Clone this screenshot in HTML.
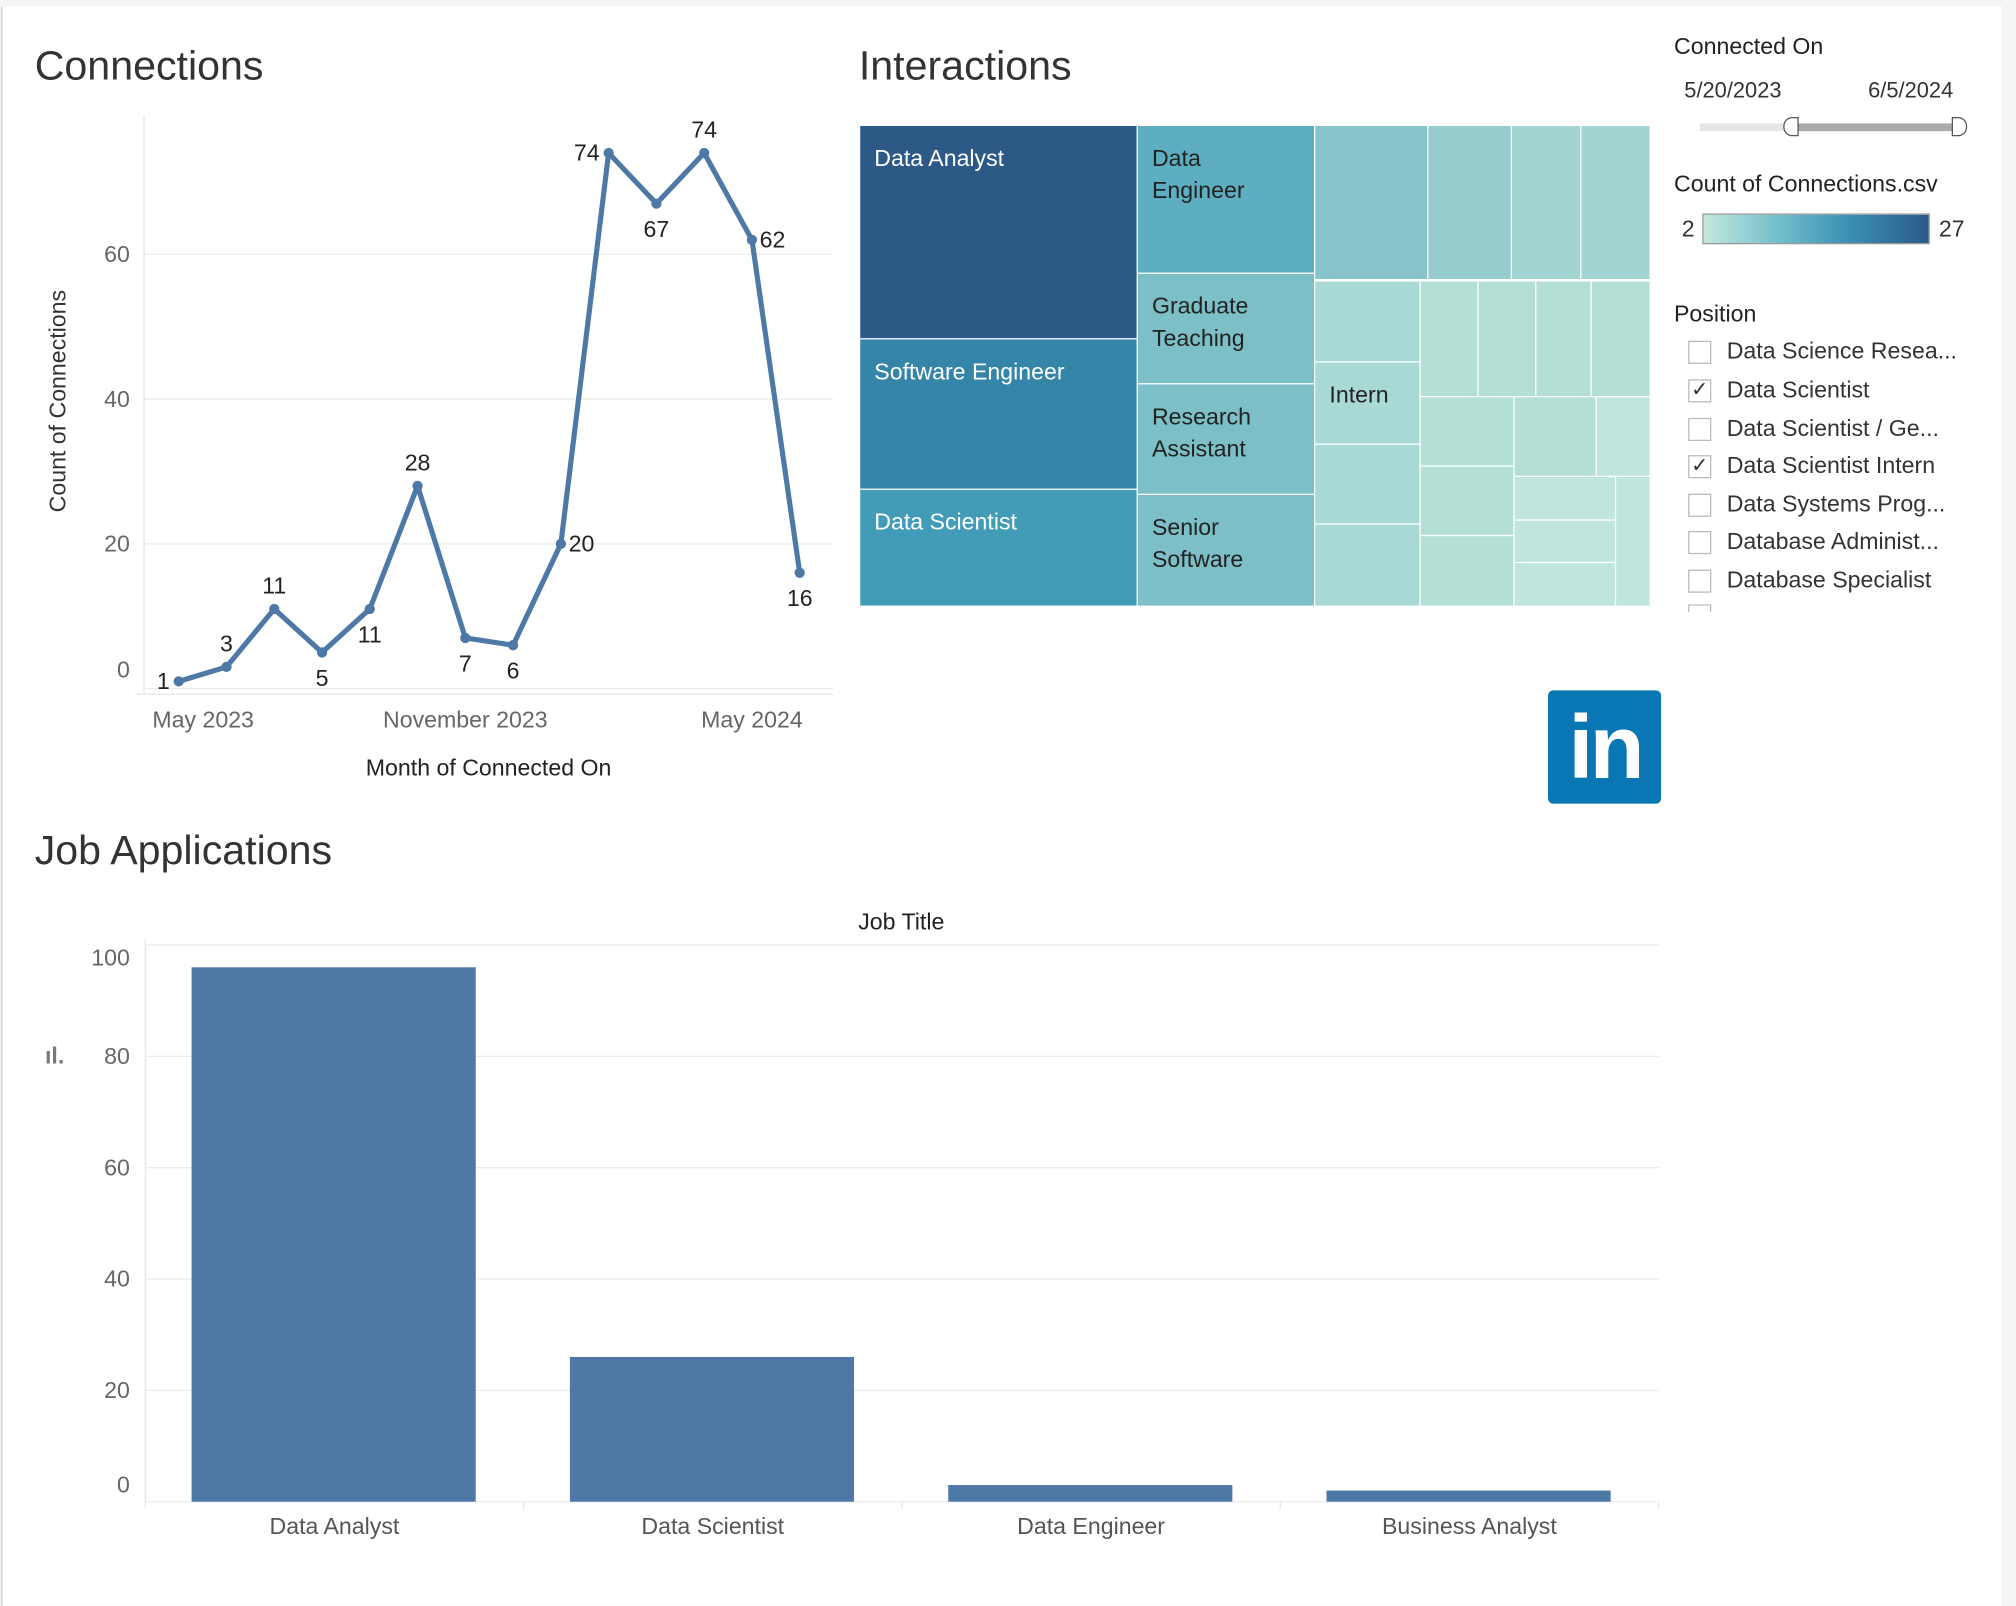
<!DOCTYPE html>
<html><head><meta charset="utf-8"><style>
html,body{margin:0;padding:0;background:#f4f4f4;overflow:hidden;width:2016px;height:1606px}
#wrap{position:absolute;left:0;top:0;width:1568px;height:1249px;overflow:hidden;transform:scale(1.285714);transform-origin:0 0;font-family:"Liberation Sans",sans-serif;color:#333}
#panel{position:absolute;left:1px;top:5px;width:1556px;height:1244px;background:#fff;border-left:1px solid #ccc;box-sizing:border-box}
.t{position:absolute;white-space:nowrap}
svg text{font-family:"Liberation Sans",sans-serif}
.cb{position:absolute;left:1313px;width:18px;height:18px;border:1px solid #bbb;background:#fff;box-sizing:border-box;font-size:16px;line-height:16px;text-align:center;color:#333}
.pl{position:absolute;left:1343px;font-size:18px;color:#333;white-space:nowrap}
</style></head><body>
<div id="wrap">
<div id="panel"></div>
<div class="t" style="left:27px;top:33px;font-size:32px;color:#333">Connections</div>
<div class="t" style="left:668px;top:33px;font-size:32px;color:#333">Interactions</div>
<div class="t" style="left:27px;top:643px;font-size:32px;color:#333">Job Applications</div>

<svg id="line" width="660" height="620" style="position:absolute;left:0;top:0"></svg>
<svg id="tree" width="620" height="380" style="position:absolute;left:669px;top:98px"></svg>
<svg id="bar" width="1300" height="550" style="position:absolute;left:0;top:690px"></svg>

<div class="t" style="left:1302px;top:26px;font-size:18px;color:#222">Connected On</div>
<div class="t" style="left:1310px;top:61px;font-size:17px">5/20/2023</div>
<div class="t" style="left:1453px;top:61px;font-size:17px">6/5/2024</div>
<div style="position:absolute;left:1322px;top:96px;width:202px;height:6px;background:#e6e6e6"></div>
<div style="position:absolute;left:1393px;top:96px;width:131px;height:6px;background:#aaa"></div>
<div style="position:absolute;left:1387px;top:91px;width:12px;height:15px;border:1.5px solid #555;background:#fff;border-radius:7px 0 0 7px;box-sizing:border-box"></div>
<div style="position:absolute;left:1518px;top:91px;width:12px;height:15px;border:1.5px solid #555;background:#fff;border-radius:0 7px 7px 0;box-sizing:border-box"></div>
<div class="t" style="left:1302px;top:133px;font-size:18px;color:#222">Count of Connections.csv</div>
<div class="t" style="left:1308px;top:168px;font-size:18px">2</div>
<div style="position:absolute;left:1324px;top:166px;width:177px;height:24px;border:1px solid #999;box-sizing:border-box;background:linear-gradient(to right,#c2e8dc,#6fbccb 35%,#3a8fb3 65%,#2b5a87)"></div>
<div class="t" style="left:1508px;top:168px;font-size:18px">27</div>
<div class="t" style="left:1302px;top:234px;font-size:18px;color:#222">Position</div>
<div class="cb" style="top:265px"></div><div class="pl" style="top:263px">Data Science Resea...</div>
<div class="cb" style="top:295px">✓</div><div class="pl" style="top:293px">Data Scientist</div>
<div class="cb" style="top:325px"></div><div class="pl" style="top:323px">Data Scientist / Ge...</div>
<div class="cb" style="top:354px">✓</div><div class="pl" style="top:352px">Data Scientist Intern</div>
<div class="cb" style="top:384px"></div><div class="pl" style="top:382px">Data Systems Prog...</div>
<div class="cb" style="top:413px"></div><div class="pl" style="top:411px">Database Administ...</div>
<div class="cb" style="top:443px"></div><div class="pl" style="top:441px">Database Specialist</div>
<div style="position:absolute;left:1300px;top:470px;width:240px;height:6px;overflow:hidden"><div class="cb" style="left:13px;top:0"></div></div>

<div style="position:absolute;left:1204px;top:537px;width:88px;height:88px;background:#0a77b5;border-radius:4px;color:#fff;font-weight:bold;font-size:70px;line-height:88px;text-align:center;letter-spacing:-3px">in</div>
</div>
<script>
var NS='http://www.w3.org/2000/svg';
function mk(p,tag,a){var e=document.createElementNS(NS,tag);for(var k in a)e.setAttribute(k,a[k]);p.appendChild(e);return e;}
function tx(p,x,y,s,a){var e=mk(p,'text',Object.assign({x:x,y:y},a));e.textContent=s;return e;}

var months=['2023-05','2023-06','2023-07','2023-08','2023-09','2023-10','2023-11','2023-12','2024-01','2024-02','2024-03','2024-04','2024-05','2024-06'];
var counts=[1,3,11,5,11,28,7,6,20,74,67,74,62,16];
var lineTicks=[0,20,40,60];
var monthLabels=[[0,'May 2023'],[6,'November 2023'],[12,'May 2024']];
var labelPos=['l','a','a','b','b','a','b','b','r','l','b','a','r','b'];

(function(){
var s=document.getElementById('line');
var x0=139,dx=(622-139)/(months.length-1);
function X(i){return x0+i*dx;}
function Y(v){return 535.6-v*5.63;}
lineTicks.forEach(function(t){
 var g=mk(s,'line',{x1:112,x2:648,y1:Y(t),y2:Y(t),stroke:'#ebebeb','stroke-width':1});
 
 var l=tx(s,101,Math.min(Y(t)+6,527),String(t),{'text-anchor':'end','font-size':18,fill:'#666'});
 
});
mk(s,'line',{x1:112,x2:112,y1:90,y2:540,stroke:'#e6e6e6'});
mk(s,'line',{x1:105,x2:648,y1:540,y2:540,stroke:'#e6e6e6'});
monthLabels.forEach(function(m){
 var l=tx(s,Math.max(X(m[0]),158),566,m[1],{'text-anchor':'middle','font-size':18,fill:'#666'});
 
});
var d=counts.map(function(v,i){return (i?'L':'M')+X(i)+' '+Y(v);}).join(' ');
var p=mk(s,'path',{d:d,fill:'none',stroke:'#4e79a7','stroke-width':4,'stroke-linejoin':'round'});

counts.forEach(function(v,i){
 var c=mk(s,'circle',{cx:X(i),cy:Y(v),r:4,fill:'#4e79a7'});
 
 var lp=labelPos[i],lx=X(i),ly=Y(v),an='middle';
 if(lp==='a')ly-=12;else if(lp==='b')ly+=26;else if(lp==='l'){lx-=7;ly+=6;an='end';}else{lx+=6;ly+=6;an='start';}
 var l=tx(s,lx,ly,String(v),{'text-anchor':an,'font-size':18,fill:'#222'});
 
});
var yt=tx(s,0,0,'Count of Connections',{'font-size':18,fill:'#333','text-anchor':'middle',transform:'translate(51,312) rotate(-90)'});

var xt=tx(s,380,603,'Month of Connected On',{'font-size':18,fill:'#222','text-anchor':'middle'});

})();

var treeRects=[
[0,0,215,165,'#2d5986','Data Analyst','#fff'],[0,166,215,116,'#3585a8','Software Engineer','#fff'],[0,283,215,90,'#439cb7','Data Scientist','#fff'],
[216,0,137,114,'#5eaec1','Data|Engineer','#222'],[216,115,137,85,'#7cbfc7','Graduate|Teaching','#222'],[216,201,137,85,'#7cbfc7','Research|Assistant','#222'],[216,287,137,86,'#7cbfc7','Senior|Software','#222'],
[354,0,87,119,'#85c4ca'],[442,0,64,119,'#96cccd'],[507,0,53,119,'#a2d4d1'],[561,0,53,119,'#a2d4d1'],
[354,121,81,62,'#a9d9d4'],[354,184,81,63,'#a9d9d4','Intern','#222'],[354,248,81,61,'#a9d9d4'],[354,310,81,63,'#a9d9d4'],
[436,121,44,89,'#b4dfd6'],[481,121,44,89,'#b4dfd6'],[526,121,42,89,'#b4dfd6'],[569,121,45,89,'#b4dfd6'],
[436,211,72,53,'#b4dfd6'],[436,265,72,53,'#b4dfd6'],[436,319,72,54,'#b4dfd6'],
[509,211,63,61,'#b4dfd6'],[573,211,41,61,'#bfe5dc'],
[509,273,78,33,'#bfe5dc'],[509,307,78,32,'#bfe5dc'],[509,340,78,33,'#bfe5dc'],[588,273,26,100,'#bfe5dc']];
(function(){
var s=document.getElementById('tree');
treeRects.forEach(function(r){
 var e=mk(s,'rect',{x:r[0],y:r[1],width:r[2],height:r[3],fill:r[4]});
 
 if(r[5]){r[5].split('|').forEach(function(line,j){
  var t=tx(s,r[0]+11,r[1]+31+j*25,line,{'font-size':18,fill:r[6]});
  
 });}
});
})();

var jobTitles=['Data Analyst','Data Scientist','Data Engineer','Business Analyst'];
var jobCounts=[96,26,3,2];
var barTicks=[0,20,40,60,80,100];
(function(){
var s=document.getElementById('bar');
var oy=690;
function Y(v){return 1168-oy-v*4.33;}
var x0=113,bw=294.25;
barTicks.forEach(function(t){
 var g=mk(s,'line',{x1:113,x2:1290,y1:Y(t),y2:Y(t),stroke:'#ebebeb'});
 
 var yy=Y(t)+6;if(t===100)yy+=10;if(t===0)yy-=13;
 var l=tx(s,101,yy,String(t),{'text-anchor':'end','font-size':18,fill:'#666'});
 
});
mk(s,'line',{x1:113,x2:113,y1:40,y2:Y(0)+5,stroke:'#e6e6e6'});
jobTitles.forEach(function(j,i){
 var v=jobCounts[i];
 var b=mk(s,'rect',{x:x0+i*bw+36,y:Y(v),width:221,height:Y(0)-Y(v),fill:'#4e79a7'});
 
 var l=tx(s,x0+i*bw+bw/2,503,j,{'text-anchor':'middle','font-size':18,fill:'#555'});
 
 mk(s,'line',{x1:x0+(i+1)*bw,x2:x0+(i+1)*bw,y1:Y(0),y2:Y(0)+6,stroke:'#e6e6e6'});
});
var ht=tx(s,701,33,'Job Title',{'text-anchor':'middle','font-size':18,fill:'#222'});

var yt=tx(s,0,0,'Count of Job Applications',{'font-size':18,fill:'#333','text-anchor':'middle',transform:'translate(51,948) rotate(-90)'});

var ic=tx(s,35,137,'ıl.',{'font-size':18,fill:'#777','font-weight':'bold'});

})();
</script>
</body></html>
